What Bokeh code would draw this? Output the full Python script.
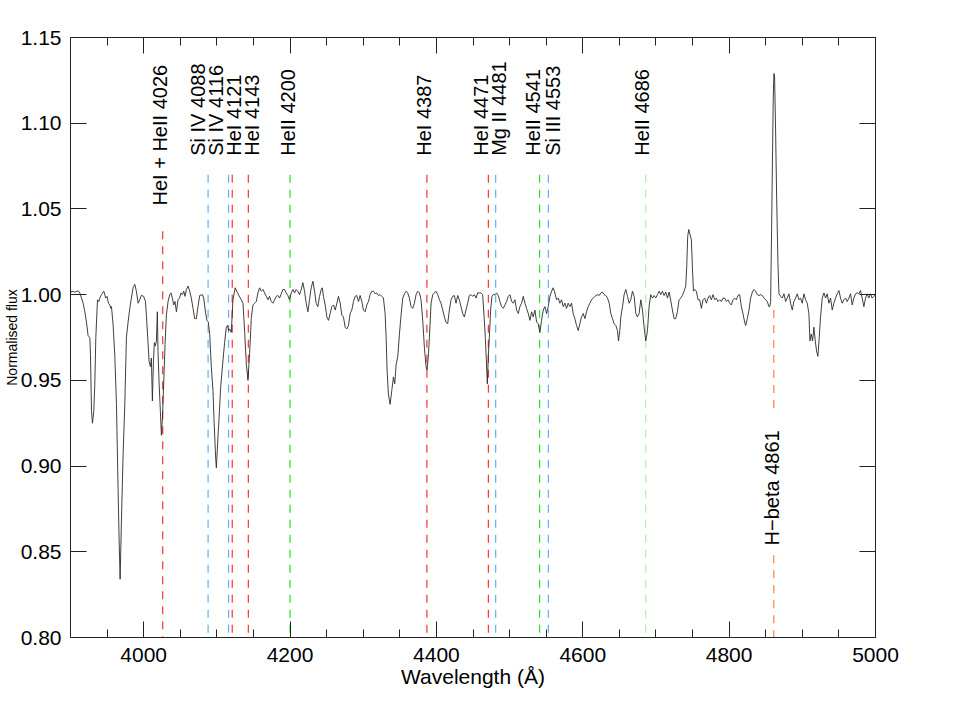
from math import pi
from bokeh.plotting import figure
from bokeh.models import (Range1d, LinearAxis, FixedTicker, PrintfTickFormatter,
                          CustomJSTickFormatter)
from bokeh.core.properties import value
from bokeh.embed import file_html
from bokeh.resources import INLINE

# ---------------- data ----------------
wavelength = [
    3899, 3901.4, 3906, 3910.5, 3912.7, 3915, 3917.3, 3919.6, 3921.8, 3924.1, 3926.4, 3927.3, 3928.7,
    3930, 3931.8, 3933.2, 3934.6, 3936.9, 3938.7, 3940, 3942.3, 3945.5, 3948.2, 3950, 3951.9, 3953.7,
    3955, 3956, 3958.2, 3960.5, 3962.8, 3965, 3966.4, 3967.8, 3969.6, 3971.9, 3974.2, 3976.4, 3978.7,
    3981, 3983.2, 3985.5, 3987.8, 3990, 3992.4, 3994.6, 3996.9, 4000, 4002.4, 4003.7, 4005.5, 4007.4,
    4009.2, 4010.5, 4011.9, 4013.3, 4014.6, 4016, 4017.4, 4018.7, 4019.6, 4021, 4022.8, 4024.2, 4025.6,
    4027.4, 4029.2, 4031, 4033.3, 4035.6, 4037.4, 4039.2, 4041, 4042.8, 4044.7, 4047, 4049, 4051, 4053,
    4054.7, 4056.5, 4058.3, 4060.6, 4062.9, 4065.1, 4067.4, 4069.7,
    4072, 4074.2, 4076.5, 4080.2, 4082, 4084.7, 4086.5, 4088.3, 4090.2, 4092.4, 4094.7, 4096.1, 4098.3,
    4099.3, 4101.5, 4103.5, 4105.2, 4108.4, 4110.6, 4112.9, 4114.5, 4116.1, 4117.5, 4119.7, 4122, 4125,
    4128.8, 4133.4, 4135.7, 4138, 4140.2, 4142.5, 4144.8, 4147, 4149.3, 4151.6, 4153.9, 4156.1, 4158.4,
    4160.7, 4163, 4165.2, 4167.5, 4169.8, 4172, 4174.3, 4176.6, 4178.9, 4181.1, 4183.4, 4185.7, 4188,
    4190.2, 4192.5, 4194.8, 4197, 4199.3, 4201.6, 4203.9, 4206.2, 4208.4, 4210.7, 4213, 4215.3, 4217.5,
    4219.8, 4222.1, 4224.4, 4226.6, 4228.9, 4231.2, 4233.5, 4235.7, 4238, 4240.3, 4242.6, 4244, 4245.7,
    4248, 4250.3, 4252.6, 4254.8, 4257.1, 4259.4, 4261.7, 4264, 4266.2, 4268.5, 4270.8, 4273, 4275.3,
    4277.6, 4279.9, 4282.1, 4284.4, 4286.7, 4289, 4291.2, 4293.5, 4295.8, 4298.1, 4300.3, 4302.6, 4304.9,
    4307.2, 4309.4, 4311.7, 4314, 4316.3, 4318.5, 4320.8, 4323.1, 4325.4, 4327.6, 4329.9, 4331.3, 4332.6,
    4334.4, 4336.7, 4339, 4341.3, 4343.1, 4344.9, 4347.2, 4349.5,
    4351.7, 4354, 4356.3, 4358.6, 4360.8, 4363.1, 4365.4, 4367.7, 4369.9, 4372.2, 4374.5, 4376.8, 4379,
    4381.3, 4383.6, 4385.9, 4387.2, 4389, 4390.4, 4392.7, 4395, 4397.2, 4399.5, 4401.8, 4404.1, 4406.3,
    4408.6, 4410.9, 4413.1, 4415.4, 4417.7, 4420, 4422.2, 4424.5, 4426.8, 4429.1, 4431.3, 4433.6, 4435.9,
    4438.2, 4440.4, 4442.7, 4445, 4447.3, 4449.5, 4451.8, 4454.1, 4456.4, 4458.6, 4460.9, 4463.2, 4465.5,
    4466.8, 4468.2, 4469.6, 4470.9, 4472.3, 4474.1, 4475.9, 4477.7, 4480, 4482.3, 4484.6, 4486.8, 4489.1,
    4491.4, 4493.7, 4495.9, 4498.2, 4500.5, 4502.8, 4505, 4507.3, 4509.6, 4511.9, 4514.1, 4516.4, 4518.7,
    4521, 4523.2, 4525.5, 4527.8, 4530.1, 4532.3, 4534.6, 4536.9, 4539.1, 4541.4, 4543.7, 4546, 4548.3,
    4550.5, 4552.8, 4555.1, 4557.4, 4559.6, 4561.9, 4564.2, 4566.5, 4568.7, 4571, 4573.3, 4575.6, 4577.8,
    4580.1, 4582.4, 4584.7, 4586.9, 4589.2, 4591.5, 4593.8, 4596, 4598.3, 4600.6, 4602.9, 4605.1, 4607.4,
    4609.7, 4612, 4614.2, 4616.5,
    4620.1, 4622.4, 4624.7, 4627, 4629.2, 4631.5, 4633.8, 4636.1, 4638.3, 4640.6, 4642.9, 4645.2, 4647.4,
    4648.8, 4650.6, 4652, 4654.3, 4656.5, 4658.8, 4661.1, 4663.4, 4665.6, 4667.9, 4670.2, 4672.5, 4674.7,
    4677, 4679.3, 4681.6, 4683.8, 4686.1, 4688.4, 4690.6, 4692.9, 4695.2, 4697.5, 4699.7, 4702, 4704.3,
    4706.6, 4708.8, 4711.1, 4713.4, 4715.7, 4718, 4720.2, 4722.5, 4724.8, 4727, 4729.3, 4731.6, 4733.9,
    4736.1, 4738.4, 4740.7, 4742, 4743.4, 4744.8, 4746.6, 4748.4, 4749.8, 4751.2, 4753, 4755.2, 4757.5,
    4759.8, 4762.1, 4764.3, 4766.6, 4768.9, 4771.2, 4773.4, 4775.7, 4778, 4780.3, 4782.5, 4784.8, 4787.1,
    4789.4, 4791.6, 4793.9, 4796.2, 4798.5, 4800.7, 4803, 4805.3, 4807.6, 4809.8, 4812.1, 4814.4, 4816.7,
    4818.9, 4821.2, 4822.6, 4824.8, 4827.1, 4829.4, 4831.7, 4833.9, 4836.2, 4838.5, 4840.8, 4843, 4845.3,
    4847.6, 4849.9, 4852.1, 4854.4, 4855.5, 4856.7, 4858, 4859.4, 4860.3, 4861.2, 4862.1, 4863.5, 4864.9,
    4866.7, 4868.1, 4870.3,
    4872.6, 4874.9, 4877.2, 4879.4, 4881.7, 4884, 4886.3, 4888.5, 4890.8, 4893.1, 4895.4, 4897.6, 4899.9,
    4902.2, 4904.5, 4906.7, 4909, 4910.4, 4912.2, 4914, 4915.8, 4917.7, 4919.5, 4921.3, 4923.1, 4924.9,
    4927.2, 4929.5, 4931.8, 4934, 4936.3, 4938.6, 4940.9, 4943.1, 4945.4, 4947.7, 4950, 4952.2, 4954.5,
    4956.8, 4959.1, 4961.3, 4963.6, 4965.9, 4968.2, 4970.4, 4972.7, 4975, 4977.3, 4979.5, 4981.8, 4984.1,
    4986.4, 4988.6, 4990.9, 4993.2, 4995.4, 4997.7, 5000,
]

flux = [
    1.000, 1.002, 1.0015, 1.0023, 1.001, 0.998, 0.995, 0.990, 0.984, 0.976, 0.975, 0.965, 0.932,
    0.925, 0.932, 0.9475, 0.975, 0.997, 0.996, 0.998, 1.000, 1.002, 0.998, 0.999, 0.995, 0.994,
    0.992, 0.993, 0.9825, 0.965, 0.936, 0.887, 0.858, 0.834, 0.868, 0.907, 0.936, 0.975, 0.984,
    0.992, 0.998, 1.004, 1.006, 1.002, 0.995, 0.997, 0.9996, 0.999, 0.996, 0.988, 0.975, 0.961,
    0.958, 0.963, 0.938, 0.961, 0.972, 0.970, 0.973, 0.990, 0.967, 0.949, 0.932, 0.918, 0.928,
    0.949, 0.971, 0.988, 0.996, 1.000, 1.001, 0.998, 0.994, 0.996, 0.990, 0.997, 0.998, 1.001, 1.000,
    1.002, 0.999, 1.003, 1.005, 1.002, 0.998, 0.992, 0.986,
    0.986, 0.993, 0.9995, 1.000, 0.998, 0.989, 0.985, 0.984, 0.977, 0.958, 0.944, 0.927, 0.905,
    0.899, 0.917, 0.932, 0.946, 0.962, 0.972, 0.981, 0.982, 0.979, 0.980, 0.978, 0.997, 1.004,
    1.0005, 0.997, 0.995, 0.978, 0.960, 0.950, 0.966, 0.986, 0.994, 0.995, 0.996, 1.001, 1.004,
    1.002, 1.003, 1.001, 0.999, 0.997, 0.999, 0.996, 0.995, 0.997, 0.999, 0.9995, 0.998, 1.0005,
    1.003, 1.003, 1.001, 0.9995, 0.997, 1.001, 1.003, 1.001, 1.003, 1.002, 1.000, 1.003, 1.007,
    1.002, 0.995, 0.990, 0.997, 1.004, 1.0078, 1.002, 0.995, 0.993, 0.999, 1.003, 1.004, 0.999,
    0.994, 0.987, 0.985, 0.989, 0.993, 0.994, 0.991, 0.995, 0.999, 0.995, 0.988, 0.987, 0.981,
    0.980, 0.982, 0.989, 0.991, 0.996, 0.999, 0.9995, 0.996, 0.9995, 0.996, 0.991, 0.990, 0.994,
    0.996, 1.000, 1.002, 1.002, 1.0005, 1.001, 0.9995, 1.000, 0.999, 0.998, 0.989, 0.975, 0.956,
    0.942, 0.936, 0.944, 0.952, 0.948, 0.959, 0.964, 0.977,
    0.988, 0.998, 1.0005, 1.002, 1.001, 0.998, 0.993, 0.992, 0.995, 1.000, 1.002, 1.001, 0.997,
    0.985, 0.969, 0.958, 0.956, 0.964, 0.975, 0.995, 1.000, 1.001, 1.002, 1.000, 0.997, 0.995,
    0.991, 0.987, 0.984, 0.983, 0.991, 0.997, 0.999, 0.9995, 0.995, 0.9995, 0.997, 0.993, 0.989,
    0.987, 0.991, 0.995, 0.9995, 1.000, 0.999, 1.000, 0.998, 1.001, 1.001, 1.001, 1.000, 0.985,
    0.975, 0.962, 0.948, 0.964, 0.975, 0.991, 0.999, 1.000, 1.000, 1.001, 0.9995, 0.996, 0.993,
    0.992, 0.994, 0.996, 0.999, 1.000, 0.996, 0.995, 0.997, 0.991, 0.989, 0.993, 0.995, 0.999,
    0.995, 0.992, 0.989, 0.985, 0.990, 0.987, 0.991, 0.984, 0.983, 0.978, 0.985, 0.991, 0.993,
    0.989, 0.993, 0.999, 1.002, 1.004, 1.001, 0.997, 0.998, 0.995, 0.997, 0.993, 0.995, 0.992,
    0.995, 0.993, 0.995, 0.989, 0.986, 0.982, 0.979, 0.983, 0.987, 0.989, 0.986, 0.990, 0.993,
    0.995, 0.997, 0.998, 0.999,
    1.000, 0.9995, 1.001, 1.0015, 1.000, 0.9995, 0.998, 0.995, 0.989, 0.986, 0.983, 0.982, 0.979,
    0.973, 0.979, 0.987, 0.993, 1.000, 1.003, 0.999, 0.995, 0.997, 1.002, 0.999, 0.989, 0.987,
    0.989, 0.997, 0.991, 0.981, 0.973, 0.979, 0.993, 1.000, 0.998, 0.9995, 0.998, 1.000, 1.002,
    1.000, 1.002, 0.9995, 1.0015, 0.998, 1.0015, 0.9966, 0.991, 0.986, 0.986, 0.990, 0.997, 0.998,
    0.9995, 1.002, 1.005, 1.016, 1.034, 1.038, 1.035, 1.032, 1.016, 1.002, 1.003, 1.002, 0.997,
    0.997, 0.992, 0.997, 0.998, 0.995, 0.998, 0.9995, 0.997, 1.000, 0.997, 0.998, 0.996, 0.997,
    0.996, 0.998, 0.998, 0.996, 0.997, 0.995, 0.994, 0.997, 0.998, 0.997, 0.9995, 1.000, 0.993,
    0.989, 0.984, 0.982, 0.986, 0.991, 0.998, 1.0015, 1.003, 1.002, 1.000, 0.9995, 1.000, 0.9995,
    0.998, 0.997, 0.996, 0.993, 0.993, 0.996, 1.037, 1.086, 1.115, 1.129, 1.127, 1.096, 1.057,
    1.018, 1.0005, 0.999,
    0.998, 1.0005, 0.996, 0.998, 1.0005, 0.995, 0.991, 0.996, 0.998, 1.0005, 0.997, 0.998, 0.995,
    1.0005, 0.997, 0.995, 0.989, 0.973, 0.977, 0.973, 0.981, 0.973, 0.967, 0.964, 0.975, 0.987,
    0.998, 1.001, 0.998, 1.0005, 0.995, 0.998, 0.991, 0.995, 0.998, 1.0005, 1.0024, 0.998, 0.995,
    0.997, 0.998, 0.996, 0.998, 1.0005, 0.994, 0.998, 1.0005, 1.001, 1.0005, 1.0024, 0.998, 0.993,
    0.998, 1.0005, 0.998, 1.0005, 0.998, 0.999, 1.0005,
]

line_wavelengths = [4026, 4088, 4116, 4121, 4143, 4200, 4387, 4471, 4481, 4541, 4553, 4686, 4861]
line_labels = ["HeI + HeII 4026", "Si IV 4088", "Si IV 4116", "HeI 4121", "HeI 4143", "HeII 4200",
               "HeI 4387", "HeI 4471", "Mg II 4481", "HeII 4541", "Si III 4553", "HeII 4686",
               "H\u2212beta 4861"]
line_tops = [1.037, 1.07, 1.07, 1.07, 1.07, 1.07, 1.07, 1.07, 1.07, 1.07, 1.07, 1.07, 0.848]
label_wavelengths = [4021.9, 4074.3, 4099.3, 4123.4, 4148.4, 4197.1, 4383.6, 4460.9, 4485.9,
                     4531.5, 4558.8, 4681.6, 4858.0]
label_flux = [1.052, 1.081, 1.081, 1.081, 1.081, 1.081, 1.081, 1.081, 1.081, 1.081, 1.081, 1.081, 0.8537]
hbeta_upper = [0.931, 0.991]

x_ticks = [4000, 4200, 4400, 4600, 4800, 5000]
y_ticks = [0.80, 0.85, 0.90, 0.95, 1.00, 1.05, 1.10, 1.15]

# styles
line_colors = ["#ff3030", "#5cb0ff", "#5cb0ff", "#ff3030", "#ff3030", "#22e022", "#ff3030",
               "#ff3030", "#5cb0ff", "#22e022", "#5cb0ff", "#a6f5a6", "#ff8040"]
FONT = "Liberation Sans"

# ---------------- figure ----------------
p = figure(width=953, height=700, output_backend="svg", toolbar_location=None,
           x_range=Range1d(3900, 5000), y_range=Range1d(0.80, 1.15),
           x_axis_type=None, y_axis_type=None,
           min_border_left=69, min_border_right=78, min_border_top=37, min_border_bottom=63)
p.outline_line_color = None
p.background_fill_color = "white"
p.border_fill_color = "white"

minor_x = list(range(3900, 5001, 50))
blank = CustomJSTickFormatter(code="return ''")

bottom_ax = LinearAxis(axis_label="Wavelength (\u00c5)")
top_ax = LinearAxis(formatter=blank)
left_ax = LinearAxis(formatter=PrintfTickFormatter(format="%.2f"), axis_label="Normalised flux")
right_ax = LinearAxis(formatter=blank)
p.add_layout(bottom_ax, "below")
p.add_layout(top_ax, "above")
p.add_layout(left_ax, "left")
p.add_layout(right_ax, "right")

for ax in [bottom_ax, top_ax]:
    ax.ticker = FixedTicker(ticks=x_ticks, minor_ticks=minor_x)
for ax in [left_ax, right_ax]:
    ax.ticker = FixedTicker(ticks=y_ticks, minor_ticks=[])

for ax in [bottom_ax, top_ax, left_ax, right_ax]:
    ax.axis_line_color = "#222222"
    ax.axis_line_width = 1
    ax.major_tick_line_color = "#222222"
    ax.minor_tick_line_color = "#222222"
    ax.major_tick_in = 16
    ax.major_tick_out = 0
    ax.minor_tick_in = 8
    ax.minor_tick_out = 0
    ax.major_label_text_font = FONT
    ax.major_label_text_font_size = "21px"
    ax.major_label_text_color = "black"
    ax.axis_label_text_font = FONT
    ax.axis_label_text_font_style = "normal"
    ax.axis_label_text_color = "black"

top_ax.major_label_standoff = 0
right_ax.major_label_standoff = 0
bottom_ax.major_label_standoff = 10
left_ax.major_label_standoff = 9
bottom_ax.axis_label_text_font_size = "21px"
bottom_ax.axis_label_standoff = 0
left_ax.axis_label_text_font_size = "14px"
left_ax.axis_label_standoff = -2

# identification lines
bottoms = [0.80] * len(line_wavelengths)
p.segment(x0=line_wavelengths, y0=line_tops, x1=line_wavelengths, y1=bottoms,
          line_color=line_colors, line_width=1.2, line_dash="8 7")
p.segment(x0=[line_wavelengths[-1]], y0=[hbeta_upper[1]], x1=[line_wavelengths[-1]], y1=[hbeta_upper[0]],
          line_color=line_colors[-1], line_width=1.2, line_dash="8 7")

# spectrum
p.line(wavelength, flux, line_color="#2a2a2a", line_width=0.9)

# labels
p.text(x=label_wavelengths, y=label_flux, text=line_labels, angle=pi / 2,
       text_align="left", text_baseline="middle", text_font=value(FONT),
       text_font_size="20px", text_color="black")

open("out.html", "w").write(file_html(p, INLINE))
